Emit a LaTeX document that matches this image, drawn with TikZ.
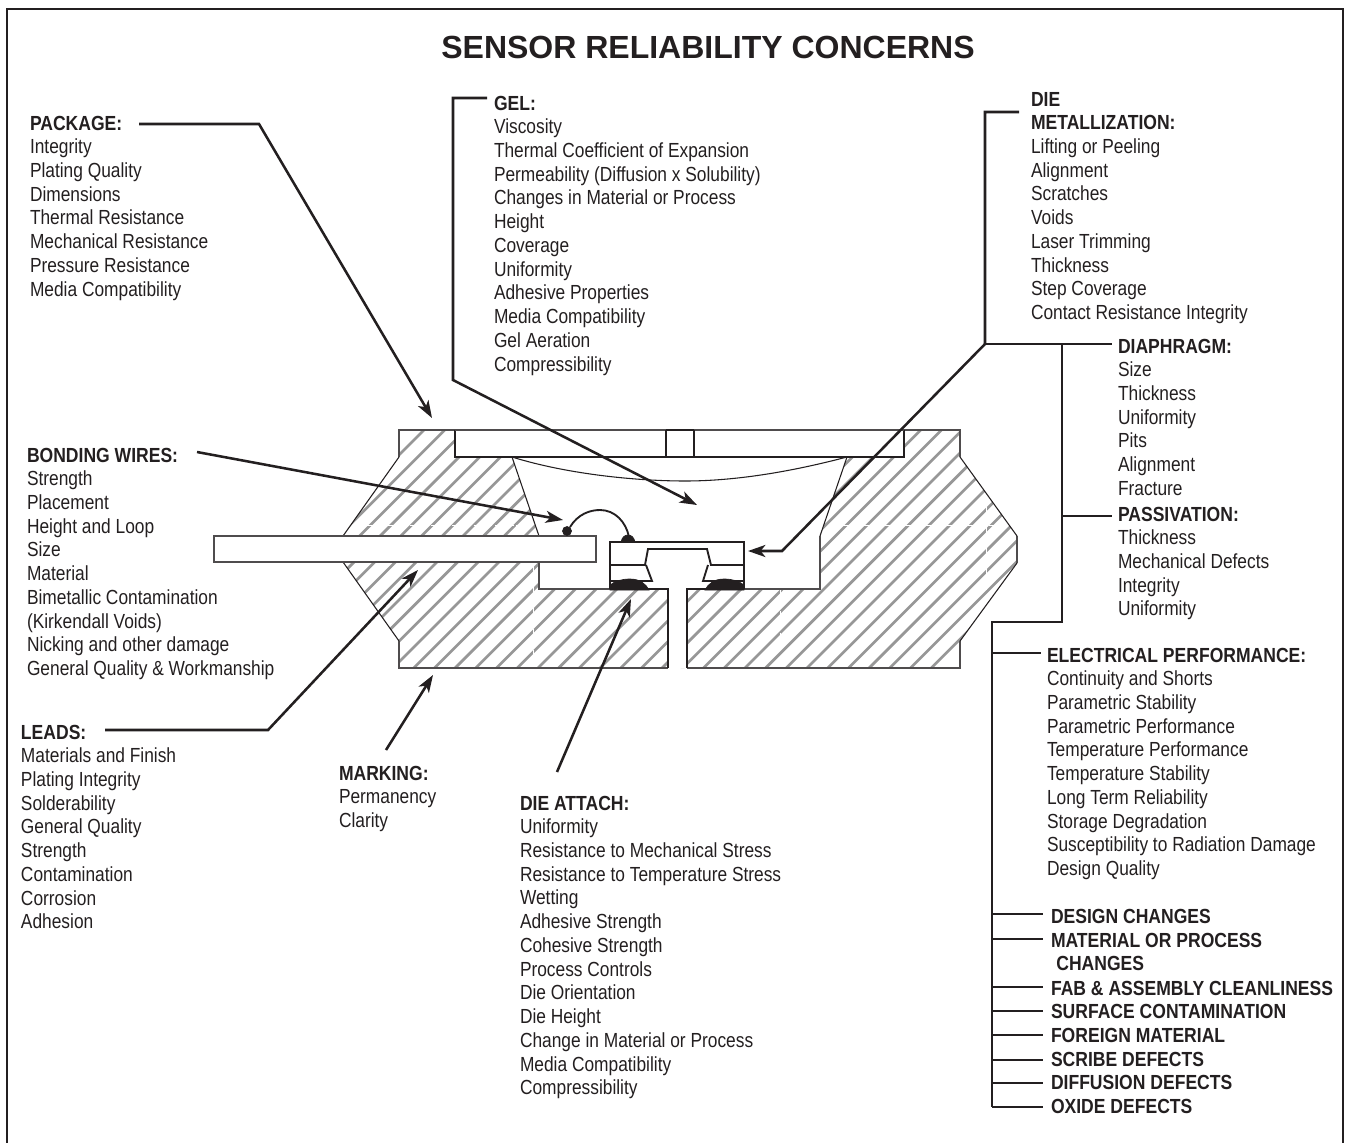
\documentclass[tikz,border=0pt]{standalone}
\usepackage{fontspec}
\setmainfont[FakeStretch=0.85,BoldFeatures={FakeStretch=0.86}]{Liberation Sans}
\newfontfamily\titlefont{Liberation Sans}
\usetikzlibrary{arrows.meta}
\definecolor{ink}{HTML}{231F20}
\definecolor{hatchgray}{HTML}{979797}
\newcommand{\fl}{\rule{0pt}{12pt}}
\tikzset{
  textblock/.style={anchor=north west,inner sep=0pt,outer sep=0pt,align=left,text=ink,font=\fontsize{15.3}{17.8}\selectfont},
  leader/.style={draw=ink,line width=1.9pt,line join=miter},
  stub/.style={draw=ink,line width=1.7pt},
  pointer/.style={leader,-{Stealth[length=13pt,width=9pt,inset=3.5pt]}},
  outline/.style={draw=ink!80!white,line width=1.3pt},
  thinline/.style={draw=ink,line width=0.8pt},
  dieline/.style={draw=ink,line width=1.4pt},
  hatchline/.style={draw=hatchgray,line width=2pt},
  seam/.style={draw=white,line width=0.7pt,dash pattern=on 14pt off 2pt},
  diefill/.style={fill=ink,draw=ink,line width=0.5pt}
}
\begin{document}
\begin{tikzpicture}[x=0.75pt,y=-0.75pt]
\useasboundingbox (0,0) rectangle (1348,1142);
\node[anchor=center,inner sep=0pt,text=ink,font=\titlefont\fontsize{24}{26}\selectfont\bfseries] (title) at (708,47) {SENSOR RELIABILITY CONCERNS};
\draw[draw=ink,line width=1.9pt] (7,1143) -- (7,9) -- (1343,9) -- (1343,1143);

% hatched body
\begin{scope}
\clip (399,430) -- (399,457) -- (343,536) -- (343,562) -- (399,641) -- (399,668) -- (960,668) -- (960,641) -- (1017,563) -- (1017,536) -- (960,457) -- (960,430) -- cycle;
\foreach \n in {0,...,36} {
  \pgfmathsetmacro{\k}{854+20.7*\n}
  \draw[hatchline] (\k-400,400) -- (\k-700,700);
}
\end{scope}
% seams
\draw[seam] (367,525) -- (533,525);
\draw[seam] (840,525) -- (1013,525);
\draw[seam] (533,565) -- (533,660);
\draw[seam] (780,590) -- (780,650);
\draw[seam] (986,503) -- (986,590);
% cavity and openings
\fill[white] (512,457) -- (539,536) -- (539,589) -- (820,589) -- (820,536) -- (847,457) -- cycle;
\fill[white] (668,589) rectangle (687,668);
\fill[white] (214,536) rectangle (596,562);
\fill[white] (455,430) rectangle (904,457);
% package outline
\draw[outline] (455,430) -- (399,430) -- (399,457);
\draw[thinline] (399,457) -- (343,536);
\draw[thinline] (343,562) -- (399,641);
\draw[outline] (399,641) -- (399,668) -- (668,668);
\draw[outline] (687,668) -- (960,668) -- (960,641);
\draw[thinline] (960,641) -- (1017,563);
\draw[outline] (1017,563) -- (1017,536);
\draw[thinline] (1017,536) -- (960,457);
\draw[outline] (960,457) -- (960,430) -- (904,430);
% lid
\draw[dieline] (455,430) -- (455,457) -- (904,457) -- (904,430);
\draw[outline] (455,430) -- (904,430);
\draw[thinline] (666,457) -- (666,430);
\draw[thinline] (694,457) -- (694,430);
\draw[dieline] (666,430) -- (694,430);
% cavity walls and gel
\draw[thinline] (512,457) -- (539,536);
\draw[thinline] (847,457) -- (820,536);
\draw[thinline] (512,457) .. controls (570,475) and (640,481) .. (685,481) .. controls (735,481) and (790,472) .. (847,457);
\draw[outline] (820,536) -- (820,589) -- (744,589);
\draw[outline] (539,562) -- (539,589) -- (610,589);
\draw[dieline] (610,589) -- (668,589) -- (668,668);
\draw[dieline] (744,589) -- (687,589) -- (687,668);
% lead
\draw[outline,fill=white] (214,536) rectangle (596,562);
% die attach
\fill[diefill] (610,590) -- (610,585) .. controls (615,581) and (622,579) .. (630,579) .. controls (640,579) and (646,584) .. (649,590) -- cycle;
\fill[diefill] (744,590) -- (744,585) .. controls (739,581) and (732,579) .. (724,579) .. controls (714,579) and (708,584) .. (705,590) -- cycle;
% die
\draw[dieline] (610,589) -- (610,542) -- (744,542) -- (744,589);
\draw[dieline] (610,565) -- (645,565) -- (648,549) -- (707,549) -- (711,565) -- (744,565);
\draw[dieline] (646,565) -- (652,581) -- (610,581);
\draw[dieline] (708,565) -- (703,581) -- (744,581);
% bond wire
\fill[diefill] (567,531) circle (4.5);
\draw[line width=1.4pt,draw=ink] (570,527) .. controls (578,514) and (590,510) .. (600,510) .. controls (615,510) and (626,522) .. (629,537);
\fill[diefill] (621,542) .. controls (622,537) and (625,535) .. (628,535) .. controls (631,535) and (634,537) .. (635,542) -- cycle;

% text
\node[textblock] (package) at (30,114) {\fl\textbf{PACKAGE:}\\Integrity\\Plating Quality\\Dimensions\\Thermal Resistance\\Mechanical Resistance\\Pressure Resistance\\Media Compatibility};
\node[textblock] (gel) at (494,94) {\fl\textbf{GEL:}\\Viscosity\\Thermal Coefficient of Expansion\\Permeability (Diffusion x Solubility)\\Changes in Material or Process\\Height\\Coverage\\Uniformity\\Adhesive Properties\\Media Compatibility\\Gel Aeration\\Compressibility};
\node[textblock] (metal) at (1031,90) {\fl\textbf{DIE}\\\textbf{METALLIZATION:}\\Lifting or Peeling\\Alignment\\Scratches\\Voids\\Laser Trimming\\Thickness\\Step Coverage\\Contact Resistance Integrity};
\node[textblock] (diaphragm) at (1118,337) {\fl\textbf{DIAPHRAGM:}\\Size\\Thickness\\Uniformity\\Pits\\Alignment\\Fracture};
\node[textblock] (passivation) at (1118,505) {\fl\textbf{PASSIVATION:}\\Thickness\\Mechanical Defects\\Integrity\\Uniformity};
\node[textblock] (electrical) at (1047,646) {\fl\textbf{ELECTRICAL PERFORMANCE:}\\Continuity and Shorts\\Parametric Stability\\Parametric Performance\\Temperature Performance\\Temperature Stability\\Long Term Reliability\\Storage Degradation\\Susceptibility to Radiation Damage\\Design Quality};
\node[textblock] (bonding) at (27,446) {\fl\textbf{BONDING WIRES:}\\Strength\\Placement\\Height and Loop\\Size\\Material\\Bimetallic Contamination\\(Kirkendall Voids)\\Nicking and other damage\\General Quality \& Workmanship};
\node[textblock] (leads) at (21,723) {\fl\textbf{LEADS:}\\Materials and Finish\\Plating Integrity\\Solderability\\General Quality\\Strength\\Contamination\\Corrosion\\Adhesion};
\node[textblock] (marking) at (339,764) {\fl\textbf{MARKING:}\\Permanency\\Clarity};
\node[textblock] (attach) at (520,794) {\fl\textbf{DIE ATTACH:}\\Uniformity\\Resistance to Mechanical Stress\\Resistance to Temperature Stress\\Wetting\\Adhesive Strength\\Cohesive Strength\\Process Controls\\Die Orientation\\Die Height\\Change in Material or Process\\Media Compatibility\\Compressibility};
\node[textblock] (design) at (1051,907) {\fl\textbf{DESIGN CHANGES}};
\node[textblock] (material) at (1051,931) {\fl\textbf{MATERIAL OR PROCESS}\\\hspace*{4pt}\textbf{CHANGES}};
\node[textblock] (fab) at (1051,979) {\fl\textbf{FAB \& ASSEMBLY CLEANLINESS}};
\node[textblock] (surface) at (1051,1002) {\fl\textbf{SURFACE CONTAMINATION}};
\node[textblock] (foreign) at (1051,1026) {\fl\textbf{FOREIGN MATERIAL}};
\node[textblock] (scribe) at (1051,1050) {\fl\textbf{SCRIBE DEFECTS}};
\node[textblock] (diffusion) at (1051,1073) {\fl\textbf{DIFFUSION DEFECTS}};
\node[textblock] (oxide) at (1051,1097) {\fl\textbf{OXIDE DEFECTS}};

% connector ends
\coordinate (pA) at (139,124); \coordinate (pB) at (259,124); \coordinate (pT) at (432,418);
\coordinate (gA) at (487,98); \coordinate (gB) at (453,98); \coordinate (gC) at (453,380); \coordinate (gT) at (697,505);
\coordinate (mA) at (1019,112); \coordinate (mB) at (985,112); \coordinate (mC) at (985,344); \coordinate (mD) at (782,551); \coordinate (mT) at (748,551);
\coordinate (dE) at (1112,344); \coordinate (tA) at (1062,344); \coordinate (tB) at (1062,622); \coordinate (tC) at (992,622); \coordinate (tD) at (992,1107);
\coordinate (pvA) at (1062,516); \coordinate (pvE) at (1112,516);
\coordinate (bA) at (197,452); \coordinate (bT) at (563,520);
\coordinate (lA) at (105,730); \coordinate (lB) at (268,730); \coordinate (lT) at (418,570);
\coordinate (kA) at (386,750); \coordinate (kT) at (433,675);
\coordinate (aA) at (557,772); \coordinate (aT) at (631,599);
\draw[pointer] (pA) -- (pB) -- (pT);
\draw[pointer] (gA) -- (gB) -- (gC) -- (gT);
\draw[pointer] (mA) -- (mB) -- (mC) -- (mD) -- (mT);
\draw[leader] (mC) -- (dE);
\draw[leader] (pvA) -- (pvE);
\draw[leader] (tA) -- (tB) -- (tC) -- (tD);
\draw[pointer] (bA) -- (bT);
\draw[pointer] (lA) -- (lB) -- (lT);
\draw[pointer] (kA) -- (kT);
\draw[pointer] (aA) -- (aT);
\foreach \y/\e/\nm in {653/1041/e,914/1043/f,939/1043/g,987/1043/h,1011/1043/i,1035/1043/j,1060/1043/k,1083/1043/l,1107/1043/m} {
  \coordinate (s\nm) at (992,\y);
  \coordinate (t\nm) at (\e,\y);
  \draw[stub] (s\nm) -- (t\nm);
}
\end{tikzpicture}
\end{document}
